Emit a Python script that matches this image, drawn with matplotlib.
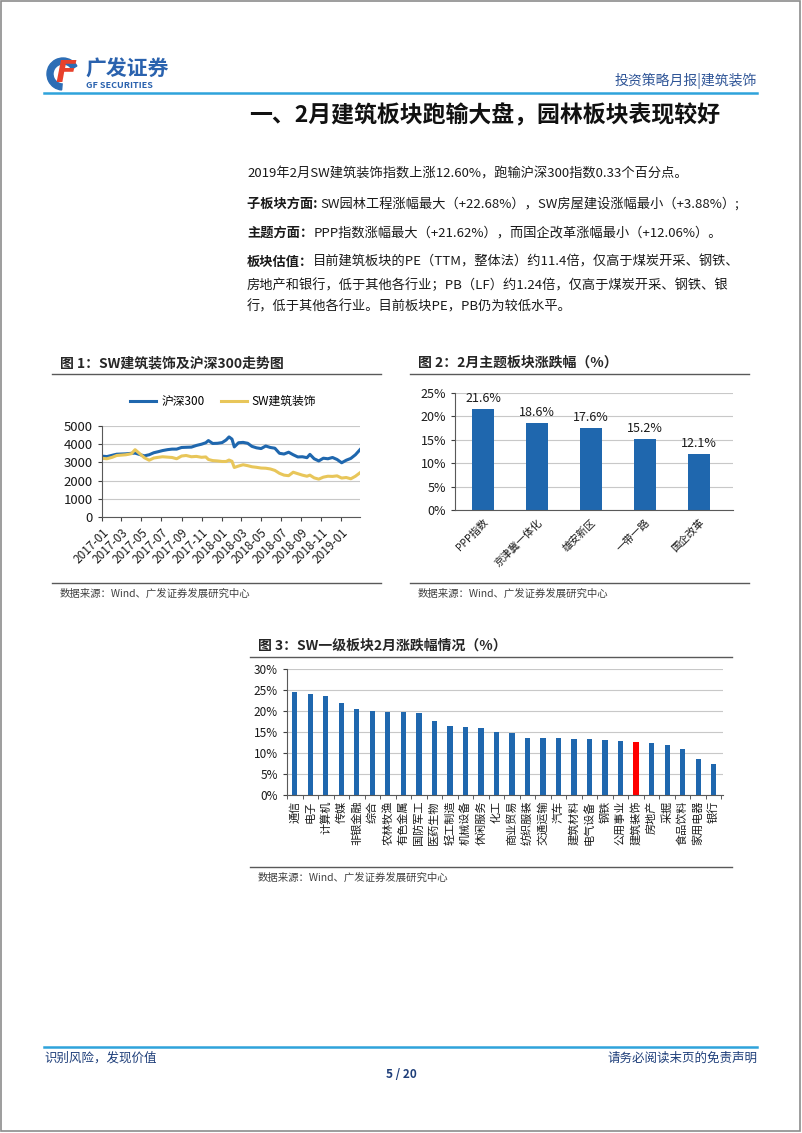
import numpy as np
import pandas as pd
import matplotlib
matplotlib.use('Agg')
import matplotlib.pyplot as plt
import matplotlib.dates as mdates
from matplotlib.patches import Rectangle, Wedge
from matplotlib.ticker import FuncFormatter

plt.rcParams['font.family'] = ['Noto Sans CJK SC', 'DejaVu Sans']
plt.rcParams['axes.unicode_minus'] = False

# ---- data: figure 1 (index levels) ----
trend_dates = ['2017-01-03', '2017-01-16', '2017-02-01', '2017-02-15', '2017-03-01', '2017-03-15',
               '2017-04-01', '2017-04-12', '2017-04-25', '2017-05-10', '2017-05-25', '2017-06-08',
               '2017-06-22', '2017-07-05', '2017-07-20', '2017-08-03', '2017-08-17', '2017-09-01',
               '2017-09-15', '2017-10-01', '2017-10-16', '2017-11-01', '2017-11-14', '2017-11-22',
               '2017-12-05', '2017-12-20', '2018-01-03', '2018-01-15', '2018-01-24', '2018-02-02',
               '2018-02-09', '2018-02-22', '2018-03-08', '2018-03-22', '2018-04-04', '2018-04-18',
               '2018-05-02', '2018-05-16', '2018-05-30', '2018-06-13', '2018-06-27', '2018-07-11',
               '2018-07-25', '2018-08-08', '2018-08-22', '2018-09-05', '2018-09-19', '2018-09-28',
               '2018-10-11', '2018-10-25', '2018-11-08', '2018-11-22', '2018-12-06', '2018-12-20',
               '2019-01-03', '2019-01-17', '2019-01-31', '2019-02-14', '2019-02-28']
hs300 = [3340, 3320, 3390, 3450, 3460, 3470, 3500, 3510, 3440, 3360, 3420, 3530,
         3590, 3650, 3700, 3730, 3730, 3820, 3830, 3840, 3930, 4000, 4080, 4200,
         4040, 4050, 4090, 4230, 4400, 4280, 3850, 4080, 4100, 4050, 3880, 3800,
         3760, 3900, 3820, 3780, 3500, 3460, 3560, 3420, 3300, 3310, 3260, 3440,
         3200, 3080, 3230, 3200, 3270, 3160, 2980, 3120, 3220, 3420, 3700]
sw_build = [3220, 3200, 3280, 3380, 3400, 3420, 3480, 3700, 3500, 3260, 3120, 3240,
            3280, 3310, 3290, 3270, 3200, 3350, 3380, 3310, 3330, 3280, 3300, 3160,
            3100, 3080, 3050, 3050, 3130, 3060, 2720, 2800, 2870, 2820, 2760, 2730,
            2690, 2680, 2640, 2560, 2400, 2300, 2270, 2460, 2380, 2300, 2240, 2300,
            2150, 2080, 2190, 2240, 2230, 2260, 2140, 2170, 2100, 2240, 2430]

# ---- data: figure 2 ----
theme_names = ['PPP指数', '京津冀一体化', '雄安新区', '一带一路', '国企改革']
theme_pct = [21.62, 18.6, 17.6, 15.2, 12.06]

# ---- data: figure 3 ----
sector_names = ['通信', '电子', '计算机', '传媒', '非银金融', '综合', '农林牧渔', '有色金属',
                '国防军工', '医药生物', '轻工制造', '机械设备', '休闲服务', '化工', '商业贸易',
                '纺织服装', '交通运输', '汽车', '建筑材料', '电气设备', '钢铁', '公用事业',
                '建筑装饰', '房地产', '采掘', '食品饮料', '家用电器', '银行']
sector_pct = [24.6, 24.1, 23.6, 22.0, 20.4, 20.1, 19.8, 19.7, 19.5, 17.6, 16.4, 16.2,
              16.0, 15.1, 14.8, 13.6, 13.6, 13.5, 13.4, 13.3, 13.2, 12.8, 12.6, 12.3,
              11.9, 11.0, 8.6, 7.5]
highlight = '建筑装饰'

BLUE = '#1F67AE'
GOLD = '#E8C65A'
TXT = '#1A1A1A'

W, H = 802, 1133
fig = plt.figure(figsize=(W / 100, H / 100), dpi=100)
page = fig.add_axes([0, 0, 1, 1])
page.set_xlim(0, W)
page.set_ylim(H, 0)
page.axis('off')
renderer = fig.canvas.get_renderer()


def box(l, t, r, b):
    return [l / W, 1 - b / H, (r - l) / W, (b - t) / H]


# page frame
page.add_patch(Rectangle((1, 1), W - 3, H - 3, fill=False, ec='#8C8C8C', lw=1.2))

# logo
page.add_patch(Wedge((63, 74), 16, 95, 330, width=6, color='#2C6DB5'))
page.text(66, 73, 'F', fontsize=22, fontweight='bold', style='italic', color='#E8412C',
          ha='center', va='center', family='DejaVu Sans')
page.text(85, 69, '广发证券', fontsize=15, fontweight='bold', color='#2A62AE', va='center')
page.text(86, 86, 'GF SECURITIES', fontsize=6.5, fontweight='bold', color='#2A62AE', va='center')

# header
page.text(757, 81, '投资策略月报|建筑装饰', fontsize=10, color='#2F5597', ha='right', va='center')
page.plot([44, 757], [93, 93], color='#2EA3DB', lw=1.8)
page.text(485, 116, '一、2月建筑板块跑输大盘，园林板块表现较好', fontsize=16.5, fontweight='bold',
          color='#111111', ha='center', va='center')


def seg_line(x, y, parts, size=9.5):
    for txt, bold in parts:
        t = page.text(x, y, txt, fontsize=size, fontweight='bold' if bold else 'normal',
                      color=TXT, ha='left', va='center')
        x += t.get_window_extent(renderer).width


seg_line(247, 174, [('2019年2月SW建筑装饰指数上涨12.60%，跑输沪深300指数0.33个百分点。', False)])
seg_line(247, 204, [('子板块方面: ', True), ('SW园林工程涨幅最大（+22.68%），SW房屋建设涨幅最小（+3.88%）;', False)])
seg_line(247, 233, [('主题方面：', True), ('PPP指数涨幅最大（+21.62%），而国企改革涨幅最小（+12.06%）。', False)])
seg_line(247, 262, [('板块估值：', True), ('目前建筑板块的PE（TTM，整体法）约11.4倍，仅高于煤炭开采、钢铁、', False)])
seg_line(247, 285, [('房地产和银行，低于其他各行业；PB（LF）约1.24倍，仅高于煤炭开采、钢铁、银', False)])
seg_line(247, 307, [('行，低于其他各行业。目前板块PE，PB仍为较低水平。', False)])


def fig_caption(x0, x1, ytitle, yline, ysrc, ysrc_line, title):
    page.text(x0 + 8, ytitle, title, fontsize=10, fontweight='bold', color='#262626', va='center')
    page.plot([x0, x1], [yline, yline], color='#595959', lw=1)
    page.plot([x0, x1], [ysrc_line, ysrc_line], color='#595959', lw=1)
    page.text(x0 + 8, ysrc, '数据来源：Wind、广发证券发展研究中心', fontsize=7.5, color='#404040', va='center')


fig_caption(52, 381, 363, 374, 594, 583, '图 1：SW建筑装饰及沪深300走势图')
fig_caption(410, 749, 363, 374, 594, 583, '图 2：2月主题板块涨跌幅（%）')
fig_caption(250, 732, 646, 657, 878, 867, '图 3：SW一级板块2月涨跌幅情况（%）')

# footer
page.plot([44, 757], [1047, 1047], color='#2EA3DB', lw=1.8)
page.text(44, 1058, '识别风险，发现价值', fontsize=9, color='#1F3F7A', va='center')
page.text(757, 1058, '请务必阅读末页的免责声明', fontsize=9, color='#1F3F7A', va='center', ha='right')
page.text(401, 1075, '5 / 20', fontsize=8.5, fontweight='bold', color='#1F3F7A', va='center', ha='center')


def style_axes(ax):
    for s in ['top', 'right']:
        ax.spines[s].set_visible(False)
    for s in ['left', 'bottom']:
        ax.spines[s].set_color('#595959')
    ax.yaxis.grid(True, color='#C8C8C8', lw=0.8)
    ax.set_axisbelow(True)
    ax.set_facecolor('none')
    ax.tick_params(colors='#404040', labelcolor='#1A1A1A', width=0.8)


# ---- figure 1 ----
ax1 = fig.add_axes(box(102, 426, 360, 517))
style_axes(ax1)
dt = pd.to_datetime(trend_dates)
ax1.plot(dt, hs300, color=BLUE, lw=2.2, label='沪深300')
ax1.plot(dt, sw_build, color=GOLD, lw=2.2, label='SW建筑装饰')
ax1.set_ylim(0, 5000)
ax1.set_yticks(range(0, 5001, 1000))
ax1.set_xlim(pd.Timestamp('2017-01-01'), pd.Timestamp('2019-02-28'))
ax1.xaxis.set_major_locator(mdates.MonthLocator(bymonth=[1, 3, 5, 7, 9, 11]))
ax1.xaxis.set_major_formatter(mdates.DateFormatter('%Y-%m'))
ax1.tick_params(axis='y', labelsize=9.5, length=3)
ax1.tick_params(axis='x', labelsize=8.5, length=3)
for lab in ax1.get_xticklabels():
    lab.set_rotation(45)
    lab.set_ha('right')
    lab.set_rotation_mode('anchor')
ax1.legend(loc='center', bbox_to_anchor=(0.47, 1.27), ncol=2, frameon=False, fontsize=8.5,
           handlelength=2.2, handletextpad=0.4, columnspacing=1.4)

# ---- figure 2 ----
ax2 = fig.add_axes(box(455, 393, 733, 510))
style_axes(ax2)
ax2.bar(range(len(theme_names)), theme_pct, width=0.42, color=BLUE)
for i, v in enumerate(theme_pct):
    ax2.text(i, v + 2.2, f'{v:.1f}%', ha='center', va='center', fontsize=9, color=TXT)
ax2.set_ylim(0, 25)
ax2.set_yticks(range(0, 26, 5))
ax2.yaxis.set_major_formatter(FuncFormatter(lambda v, p: f'{v:.0f}%'))
ax2.set_xlim(-0.52, 4.63)
ax2.set_xticks(range(len(theme_names)))
ax2.set_xticklabels(theme_names, rotation=45, ha='right', rotation_mode='anchor', fontsize=7.5)
ax2.tick_params(axis='x', length=0, pad=5)
ax2.tick_params(axis='y', labelsize=9, length=3)

# ---- figure 3 ----
ax3 = fig.add_axes(box(287, 669, 723, 795))
style_axes(ax3)
bar_colors = ['#FF0000' if n == highlight else BLUE for n in sector_names]
ax3.bar(range(len(sector_names)), sector_pct, width=0.34, color=bar_colors)
ax3.set_ylim(0, 30)
ax3.set_yticks(range(0, 31, 5))
ax3.yaxis.set_major_formatter(FuncFormatter(lambda v, p: f'{v:.0f}%'))
ax3.set_xlim(-0.45, 27.6)
ax3.set_xticks(range(len(sector_names)))
ax3.set_xticklabels(sector_names, rotation=90, fontsize=8)
ax3.set_xticks(np.arange(-0.5, len(sector_names), 1), minor=True)
ax3.tick_params(axis='x', which='major', length=0, pad=4)
ax3.tick_params(axis='x', which='minor', length=3, color='#404040')
ax3.tick_params(axis='y', labelsize=8.5, length=3)

fig.savefig('out.png', dpi=100)
